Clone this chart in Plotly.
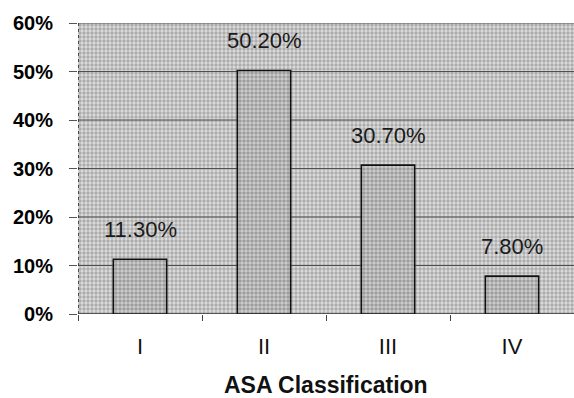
import plotly.graph_objects as go

categories = ["I", "II", "III", "IV"]
values = [11.3, 50.2, 30.7, 7.8]
value_labels = ["11.30%", "50.20%", "30.70%", "7.80%"]
y_ticks = [0, 10, 20, 30, 40, 50, 60]
y_tick_labels = ["0%", "10%", "20%", "30%", "40%", "50%", "60%"]
x_title = "ASA Classification"

pos = list(range(len(categories)))
xr = [-0.5, len(categories) - 0.5]
ymax = y_ticks[-1]

fig = go.Figure()

# dotted plot-area background (tiles per category)
fig.add_trace(go.Bar(
    x=pos, y=[ymax] * len(pos), width=1, xaxis="x", yaxis="y",
    marker=dict(color="#dcdcdc", line=dict(width=0),
                pattern=dict(shape=".", fgcolor="#7c7c7c", bgcolor="#dcdcdc",
                             size=4, solidity=0.55)),
    hoverinfo="skip", showlegend=False,
))

# gridlines
gx, gy = [], []
for t in y_ticks[1:]:
    gx += [xr[0], xr[1], None]
    gy += [t, t, None]
fig.add_trace(go.Scatter(
    x=gx, y=gy, mode="lines", xaxis="x", yaxis="y",
    line=dict(color="#505050", width=1), hoverinfo="skip", showlegend=False,
))
fig.add_trace(go.Scatter(
    x=[xr[0], xr[1]], y=[y_ticks[0], y_ticks[0]], mode="lines", xaxis="x", yaxis="y",
    line=dict(color="#333333", width=1.5), hoverinfo="skip", showlegend=False,
))

# data bars on overlaid axes
fig.add_trace(go.Bar(
    x=pos, y=values, width=0.43, xaxis="x2", yaxis="y2",
    marker=dict(color="#d0d0d0", line=dict(color="#111111", width=1.6),
                pattern=dict(shape=".", fgcolor="#6a6a6a", bgcolor="#d0d0d0",
                             size=4, solidity=0.6)),
    hoverinfo="skip", showlegend=False,
))

for p, v, lab in zip(pos, values, value_labels):
    fig.add_annotation(x=p, y=v, xref="x2", yref="y2", text=lab, showarrow=False,
                       yshift=30, font=dict(family="Arial", size=22, color="#1a1a1a"))

fig.add_annotation(x=0.5, y=0, xref="paper", yref="paper", text=x_title, showarrow=False,
                   yshift=-71, yanchor="middle",
                   font=dict(family="Arial", size=23, color="#111111", weight="bold"))

fig.add_shape(type="line", xref="x", yref="y", x0=xr[0], x1=xr[0], y0=0, y1=ymax,
              line=dict(color="#222222", width=1.5, dash="dot"), layer="above")

fig.update_layout(
    width=574, height=398,
    margin=dict(l=78, r=0, t=23, b=84),
    paper_bgcolor="white", plot_bgcolor="#c0c0c0",
    barmode="overlay", showlegend=False,
    xaxis=dict(range=xr, tickmode="array", tickvals=pos, ticktext=categories,
               ticks="", showgrid=False, zeroline=False, showline=False,
               ticklabelstandoff=17,
               tickfont=dict(family="Arial", size=22, color="#111111"),
               minor=dict(tickmode="array", tickvals=[p - 0.5 for p in pos] + [xr[1]],
                          ticks="outside", ticklen=6, tickcolor="#444444", showgrid=False)),
    yaxis=dict(range=[0, ymax], tickmode="array", tickvals=y_ticks, ticktext=y_tick_labels,
               ticks="outside", ticklen=8, tickcolor="#555555", showgrid=False,
               zeroline=False, showline=False, ticklabelstandoff=12,
               tickfont=dict(family="Arial", size=20, color="#000000", weight="bold")),
    xaxis2=dict(range=xr, overlaying="x", visible=False),
    yaxis2=dict(range=[0, ymax], overlaying="y", visible=False),
)

fig.write_html("out.html", config={"displayModeBar": False},
               post_script="document.body.style.margin='0';document.body.style.padding='0';")
